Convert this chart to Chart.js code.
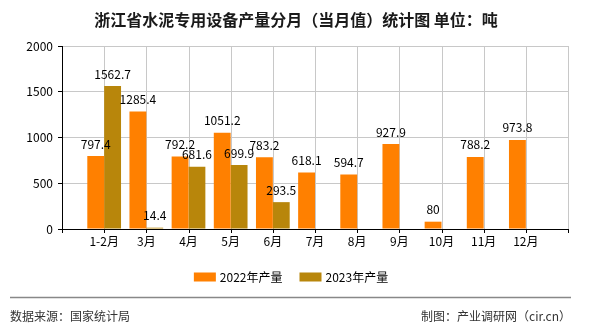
<!DOCTYPE html>
<html>
<head>
<meta charset="utf-8">
<script src="https://cdn.jsdelivr.net/npm/chart.js@4.4.1/dist/chart.umd.min.js"></script>
<style>
  html, body { margin: 0; padding: 0; background: #fff; }
  #chart { display: block; }
</style>
</head>
<body>
<canvas id="chart" width="590" height="330"></canvas>
<script>
const months = ["1-2月", "3月", "4月", "5月", "6月", "7月", "8月", "9月", "10月", "11月", "12月"];
const output2022 = [797.4, 1285.4, 792.2, 1051.2, 783.2, 618.1, 594.7, 927.9, 80, 788.2, 973.8];
const output2023 = [1562.7, 14.4, 681.6, 699.9, 293.5, null, null, null, null, null, null];
const seriesNames = ["2022年产量", "2023年产量"];
const seriesColors = ["#FF8000", "#B8860B"];
const yTicks = [0, 500, 1000, 1500, 2000];

const titleText = "浙江省水泥专用设备产量分月（当月值）统计图 单位：吨";
const sourceText = "数据来源：国家统计局";
const makerText = "制图：产业调研网（cir.cn）";

const cjk = '"Noto Sans CJK SC", "DejaVu Sans", sans-serif';

// empty slot at each end so the month ticks sit on the grid lines
function pad(arr) {
  return [null].concat(arr, [null]);
}

const decorPlugin = {
  id: "decor",
  beforeDatasetsDraw(chart) {
    // vertical grid lines and tick marks on the category axis
    const ctx = chart.ctx;
    const xs = chart.scales.x;
    const area = chart.chartArea;
    ctx.save();
    ctx.lineWidth = 1;
    xs.ticks.forEach(function (t, i) {
      const px = Math.round(xs.getPixelForTick(i)) + 0.5;
      if (i > 0) {
        ctx.strokeStyle = "#c8c8c8";
        ctx.beginPath();
        ctx.moveTo(px, area.top);
        ctx.lineTo(px, area.bottom);
        ctx.stroke();
      }
      ctx.strokeStyle = "#000";
      ctx.beginPath();
      ctx.moveTo(px, area.bottom);
      ctx.lineTo(px, area.bottom + 4);
      ctx.stroke();
    });
    ctx.restore();
  },
  afterDatasetsDraw(chart) {
    const ctx = chart.ctx;
    ctx.save();
    ctx.font = "12px " + cjk;
    ctx.fillStyle = "#000";
    ctx.textAlign = "center";
    ctx.textBaseline = "middle";
    chart.data.datasets.forEach(function (ds, i) {
      const meta = chart.getDatasetMeta(i);
      meta.data.forEach(function (bar, j) {
        const v = ds.data[j];
        if (v === null || v === undefined) return;
        ctx.fillText(String(v), bar.x, bar.y - 12);
      });
    });
    ctx.restore();
  },
  afterDraw(chart) {
    const ctx = chart.ctx;
    ctx.save();

    // title
    ctx.font = "bold 16px " + cjk;
    ctx.fillStyle = "#1a1a1a";
    ctx.textAlign = "center";
    ctx.textBaseline = "middle";
    ctx.fillText(titleText, 296, 20);

    // legend
    ctx.font = "12px " + cjk;
    ctx.textAlign = "left";
    const boxW = 22, boxH = 9, gap = 4, itemGap = 17;
    let total = 0;
    seriesNames.forEach(function (n, i) {
      total += boxW + gap + ctx.measureText(n).width + (i < seriesNames.length - 1 ? itemGap : 0);
    });
    let x = 291 - total / 2;
    const ly = 277;
    chart.data.datasets.forEach(function (ds, i) {
      ctx.fillStyle = ds.backgroundColor;
      ctx.fillRect(x, ly - boxH / 2, boxW, boxH);
      x += boxW + gap;
      ctx.fillStyle = "#000";
      ctx.fillText(ds.label, x, ly);
      x += ctx.measureText(ds.label).width + itemGap;
    });

    // footer
    ctx.strokeStyle = "#888";
    ctx.lineWidth = 1.5;
    ctx.beginPath();
    ctx.moveTo(10, 297.5);
    ctx.lineTo(571, 297.5);
    ctx.stroke();

    ctx.font = "12px " + cjk;
    ctx.fillStyle = "#333";
    ctx.textAlign = "left";
    ctx.fillText(sourceText, 10, 316);
    ctx.textAlign = "right";
    ctx.fillText(makerText, 571, 316);
    ctx.restore();
  }
};

const chart = new Chart(document.getElementById("chart"), {
  type: "bar",
  data: {
    labels: pad(months).map(function (m) { return m === null ? "" : m; }),
    datasets: [
      { label: seriesNames[0], data: pad(output2022), backgroundColor: seriesColors[0] },
      { label: seriesNames[1], data: pad(output2023), backgroundColor: seriesColors[1] }
    ]
  },
  options: {
    responsive: false,
    animation: false,
    layout: { padding: { left: 0, right: 22, top: 46, bottom: 81 } },
    datasets: {
      bar: { categoryPercentage: 0.8, barPercentage: 1.0, borderWidth: 0 }
    },
    plugins: {
      legend: { display: false },
      title: { display: false },
      tooltip: { enabled: false }
    },
    scales: {
      x: {
        offset: false,
        grid: { display: false, drawTicks: false },
        border: { display: true, color: "#000", width: 1 },
        ticks: {
          autoSkip: false,
          maxRotation: 0,
          padding: 5,
          color: "#000",
          font: { family: cjk, size: 12 }
        },
        afterFit(scale) { scale.height = 20; }
      },
      y: {
        min: 0,
        max: 2000,
        afterBuildTicks(scale) {
          scale.ticks = yTicks.map(function (v) { return { value: v }; });
        },
        grid: { color: "#c8c8c8", tickColor: "#000", tickLength: 4 },
        border: { color: "#000", width: 1 },
        ticks: {
          padding: 5,
          color: "#000",
          font: { family: cjk, size: 12 },
          callback: function (v) { return String(v); }
        },
        afterFit(scale) { scale.width = 62; }
      }
    }
  },
  plugins: [decorPlugin]
});
</script>
</body>
</html>
